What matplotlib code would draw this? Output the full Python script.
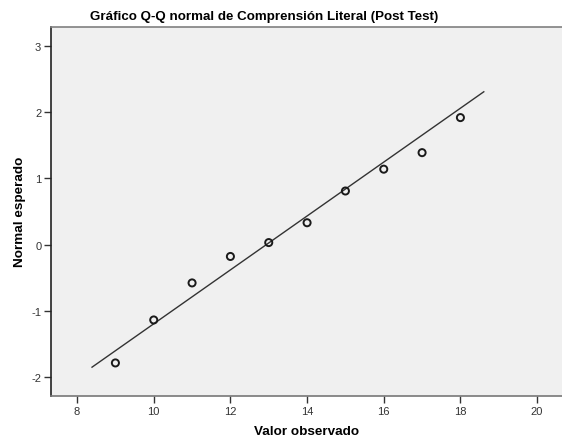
import numpy as np
import matplotlib
matplotlib.use('Agg')
import matplotlib.pyplot as plt

plt.rcParams['font.family'] = ['Liberation Sans', 'DejaVu Sans']
plt.rcParams['axes.unicode_minus'] = False

observed = [9, 10, 11, 12, 13, 14, 15, 16, 17, 18]
expected = [-1.79, -1.14, -0.58, -0.18, 0.03, 0.33, 0.81, 1.14, 1.39, 1.92]

# reference line (normal fit): mean and sd, drawn over this x range
line_mean = 12.94
line_sd = 2.454
line_x = [8.39, 18.61]

xticks = [8, 10, 12, 14, 16, 18, 20]
yticks = [-2, -1, 0, 1, 2, 3]

fig = plt.figure(figsize=(5.62, 4.39), dpi=100)
ax = fig.add_axes([51 / 562, 42 / 439, 511 / 562, 369 / 439])
ax.set_facecolor('#f0f0f0')

lx = np.array(line_x)
ax.plot(lx, (lx - line_mean) / line_sd, color='#333333', lw=1.0)
ax.scatter(observed, expected, s=26, facecolors='none', edgecolors='#1a1a1a', linewidths=1.4, zorder=3)

ax.set_xlim(7.32, 20.65)
ax.set_ylim(-2.29, 3.29)
ax.set_xticks(xticks)
ax.set_yticks(yticks)
ax.tick_params(direction='out', length=5, width=1, colors='#333333', labelsize=8, pad=2)

ax.spines['left'].set_color('#222222')
ax.spines['bottom'].set_color('#777777')
ax.spines['top'].set_color('#808080')
ax.spines['right'].set_visible(False)
for s in ax.spines.values():
    s.set_linewidth(1.2)

fig.text(307 / 562, 1 - 432 / 439, 'Valor observado', ha='center', va='center',
         fontsize=9.7, fontweight='bold')
fig.text(20 / 562, 1 - 212 / 439, 'Normal esperado', ha='center', va='center',
         rotation=90, fontsize=9.7, fontweight='bold')
fig.text(264 / 562, 1 - 17 / 439, 'Gráfico Q-Q normal de Comprensión Literal (Post Test)',
         ha='center', va='center', fontsize=9.6, fontweight='bold')

fig.savefig('out.png', dpi=100)
